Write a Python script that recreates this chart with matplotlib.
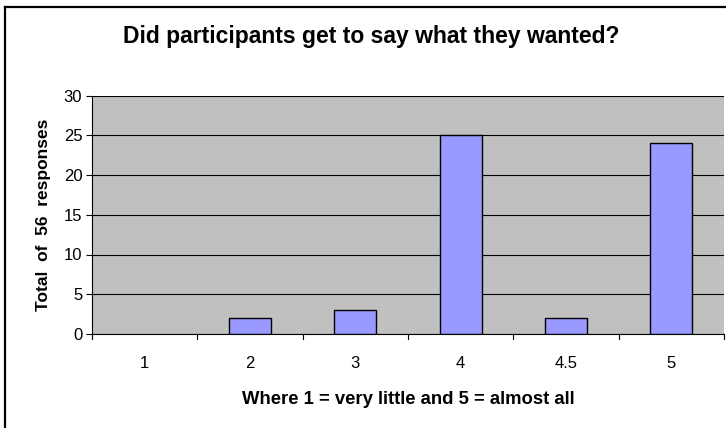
import matplotlib
matplotlib.use("Agg")
import matplotlib.pyplot as plt
from matplotlib.lines import Line2D

categories = ["1", "2", "3", "4", "4.5", "5"]
values = [0, 2, 3, 25, 2, 24]
yticks = [0, 5, 10, 15, 20, 25, 30]

plt.rcParams['font.family'] = ['Liberation Sans', 'DejaVu Sans']

W, H = 726, 428
fig = plt.figure(figsize=(W / 100, H / 100), dpi=100)
left, right, top, bottom = 92, 724, 95.5, 334
ax = fig.add_axes([left / W, 1 - bottom / H, (right - left) / W, (bottom - top) / H])
ax.set_facecolor("#C0C0C0")

x = list(range(len(categories)))
bars = ax.bar(x, values, width=0.4, color="#9999FF", edgecolor="black", linewidth=1.0, zorder=3)
for b, v in zip(bars, values):
    if v == 0:
        b.set_linewidth(0)
ax.set_xlim(-0.5, len(categories) - 0.5)
ax.set_ylim(0, 30)
ax.set_yticks(yticks)
ax.set_yticklabels([str(v) for v in yticks], fontsize=12)
ax.set_xticks(x)
ax.set_xticklabels(categories, fontsize=12)
ax.tick_params(axis="x", length=0, pad=16)
ax.tick_params(axis="y", length=4, direction="out", pad=3, width=0.8)
for b in [i + 0.5 for i in range(-1, len(categories))]:
    ax.plot([b, b], [0, -0.022], transform=ax.get_xaxis_transform(), color="black", lw=0.8, clip_on=False)
ax.grid(axis="y", color="black", linewidth=0.8, zorder=1)
ax.set_axisbelow(True)
for s in ["top", "right"]:
    ax.spines[s].set_visible(False)
ax.spines["left"].set_linewidth(0.8)
ax.spines["bottom"].set_linewidth(0.8)

ax.set_xlabel("Where 1 = very little and 5 = almost all", fontsize=13.3, fontweight="bold", labelpad=14)
ax.set_ylabel("Total  of  56  responses", fontsize=12.5, fontweight="bold", labelpad=9)
fig.text(371 / W, 1 - 37 / H, "Did participants get to say what they wanted?",
         ha="center", va="center", fontsize=16.5, fontweight="bold")

# outer chart border (left and top visible)
fig.add_artist(Line2D([5 / W, 5 / W], [0, 1 - 6.5 / H], transform=fig.transFigure, color="black", lw=1.6))
fig.add_artist(Line2D([5 / W, 1], [1 - 6.5 / H, 1 - 6.5 / H], transform=fig.transFigure, color="black", lw=1.6))

fig.savefig("out.png", dpi=100)
